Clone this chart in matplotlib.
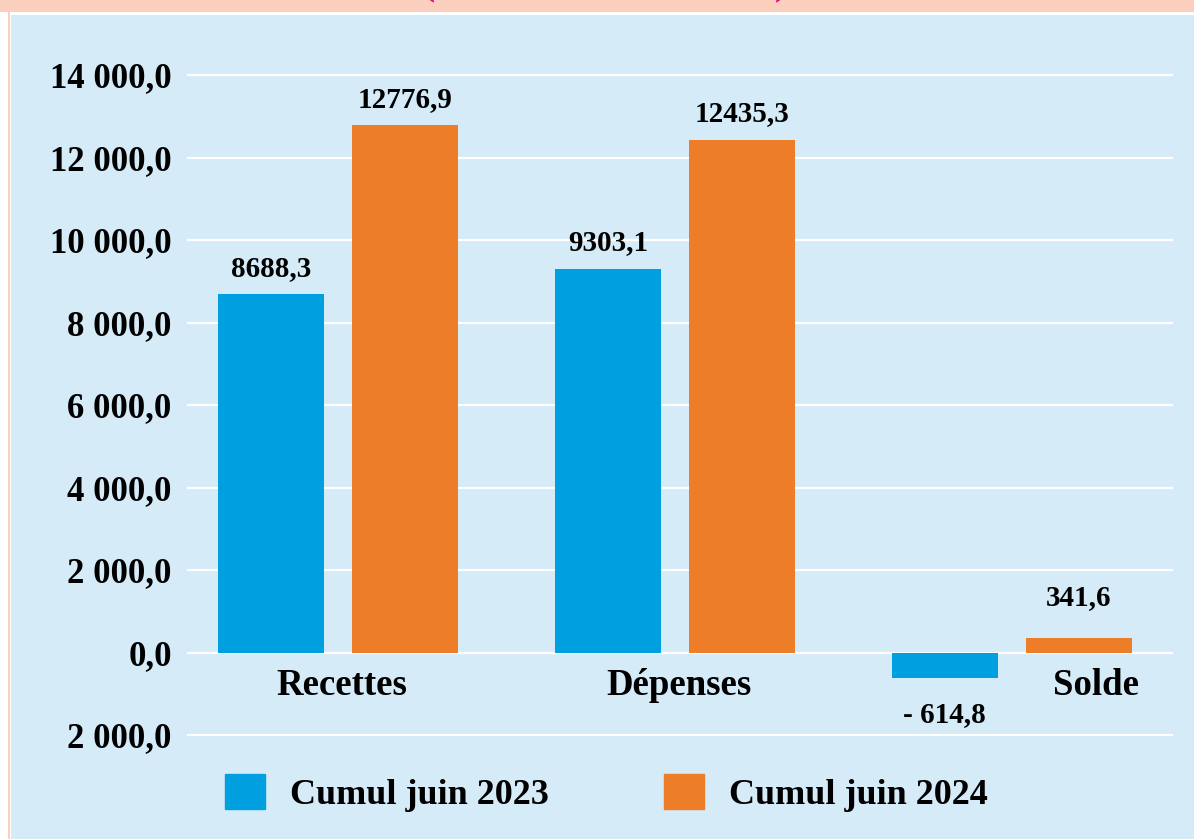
import matplotlib
matplotlib.use("Agg")
import matplotlib.pyplot as plt
from matplotlib.patches import Rectangle, Patch
import numpy as np

categories = ["Recettes", "Dépenses", "Solde"]
cumul_2023 = [8688.3, 9303.1, -614.8]
cumul_2024 = [12776.9, 12435.3, 341.6]
series_names = ["Cumul juin 2023", "Cumul juin 2024"]
y_ticks = [-2000, 0, 2000, 4000, 6000, 8000, 10000, 12000, 14000]

BLUE = "#009FE0"
ORANGE = "#EE7D29"
PANEL = "#D5EBF8"
PEACH = "#FBCFBD"
FONT = "Liberation Serif"

W, H = 1194, 839
fig = plt.figure(figsize=(W / 100, H / 100), dpi=100)
fig.patch.set_facecolor("white")

# fond : bandeau saumon en haut, panneau bleu clair
fig.add_artist(Rectangle((0, 1 - 12 / H), 1, 12 / H, transform=fig.transFigure,
                         facecolor=PEACH, edgecolor="none", zorder=-3))
fig.add_artist(Rectangle((8 / W, 0), 2 / W, 1, transform=fig.transFigure,
                         facecolor=PEACH, edgecolor="none", zorder=-3))
fig.add_artist(Rectangle((11 / W, 0), 1, 1 - 15 / H, transform=fig.transFigure,
                         facecolor=PANEL, edgecolor="none", zorder=-2))
# sous-titre coupé par le bord haut (comme sur l'original)
fig.text(0.507, 1 + 6 / H, "(En milliards de FCFA)", color="#E5007E",
         fontsize=26, fontweight="bold", family=FONT, ha="center", va="baseline")

ax = fig.add_axes([187 / W, 1 - 743.25 / H, (1173 - 187) / W, (743.25 - 42) / H])
ax.set_facecolor("none")
for s in ax.spines.values():
    s.set_visible(False)

x = np.arange(len(categories))
bw, off = 0.3145, 0.199
b1 = ax.bar(x - off, cumul_2023, bw, color=BLUE, zorder=3, label=series_names[0])
b2 = ax.bar(x + off, cumul_2024, bw, color=ORANGE, zorder=3, label=series_names[1])

ax.set_xlim(-0.448, 2.478)
ax.set_ylim(-2200, 14800)
ax.set_yticks(y_ticks)
ax.set_yticklabels([f"{abs(v):,.1f}".replace(",", " ").replace(".", ",") for v in y_ticks],
                   fontsize=25, fontweight="bold", family=FONT)
ax.tick_params(axis="y", length=0, pad=11)
ax.set_xticks([])
ax.yaxis.grid(True, color="white", lw=1.6, zorder=0)
ax.set_axisbelow(True)


def fmt(v):
    s = f"{abs(v):.1f}".replace(".", ",")
    return f"- {s}" if v < 0 else s


for bars in (b1, b2):
    for r in bars:
        v = r.get_height()
        cx = r.get_x() + r.get_width() / 2
        if v >= 0:
            dy = 9 if v > 1000 else 20
            ax.annotate(fmt(v), (cx, v), xytext=(0, dy), textcoords="offset points",
                        ha="center", va="bottom", fontsize=21, fontweight="bold", family=FONT)
        else:
            ax.annotate(fmt(v), (cx, v), xytext=(0, -17), textcoords="offset points",
                        ha="center", va="top", fontsize=21, fontweight="bold", family=FONT)

label_shift = [0.01, 0.012, 0.25]
for i, c in enumerate(categories):
    ax.annotate(c, (x[i] + label_shift[i], 0), xytext=(0, -24), textcoords="offset points",
                ha="center", va="center", fontsize=26.5, fontweight="bold", family=FONT)

leg = ax.legend(handles=[Patch(color=BLUE), Patch(color=ORANGE)], labels=series_names,
                loc="center", bbox_to_anchor=(0.508, 0.0548), bbox_transform=fig.transFigure,
                ncol=2, frameon=False, handlelength=1.1, handleheight=1.1,
                handletextpad=0.7, columnspacing=3.2,
                prop={"family": FONT, "weight": "bold", "size": 26})

fig.savefig("out.png", dpi=100)
